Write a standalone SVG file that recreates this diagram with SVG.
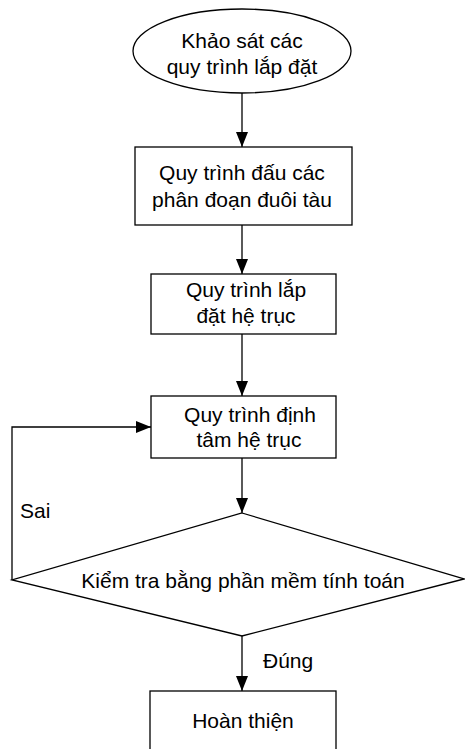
<svg xmlns="http://www.w3.org/2000/svg" width="465" height="749" viewBox="0 0 465 749">
<defs>
<style>
.s{fill:#fff;stroke:#000;stroke-width:1.3}
.c{fill:none;stroke:#000;stroke-width:1.3}
text{font-family:"Liberation Sans",Arial,sans-serif;font-size:21px;fill:#000}
.m{text-anchor:middle}
</style>
<marker id="ah" markerUnits="userSpaceOnUse" markerWidth="15" markerHeight="12" refX="15" refY="6" orient="auto" viewBox="0 0 15 12">
<path d="M0,0 L15,6 L0,12 z" fill="#000"/>
</marker>
</defs>
<rect width="465" height="749" fill="#fff"/>
<g id="connectors">
<line class="c" x1="242" y1="93" x2="242" y2="147" marker-end="url(#ah)"/>
<line class="c" x1="242" y1="225" x2="242" y2="274" marker-end="url(#ah)"/>
<line class="c" x1="242" y1="334" x2="242" y2="396" marker-end="url(#ah)"/>
<line class="c" x1="242" y1="458" x2="242" y2="513" marker-end="url(#ah)"/>
<line class="c" x1="242" y1="636" x2="242" y2="691" marker-end="url(#ah)"/>
<polyline class="c" points="12,580 12,427 151,427" marker-end="url(#ah)"/>
<text x="20" y="518">Sai</text>
<text x="263" y="668">Đúng</text>
</g>
<g id="start">
<ellipse class="s" cx="242" cy="51" rx="109" ry="42"/>
<text class="m" x="242" y="48">Khảo sát các</text>
<text class="m" x="242" y="74">quy trình lắp đặt</text>
</g>
<g id="step1">
<rect class="s" x="135" y="147" width="217" height="78"/>
<text class="m" x="242" y="180">Quy trình đấu các</text>
<text class="m" x="242" y="207">phân đoạn đuôi tàu</text>
</g>
<g id="step2">
<rect class="s" x="151" y="274" width="185" height="60"/>
<text class="m" x="246" y="297">Quy trình lắp</text>
<text class="m" x="246" y="323">đặt hệ trục</text>
</g>
<g id="step3">
<rect class="s" x="151" y="396" width="185" height="62"/>
<text class="m" x="250" y="422">Quy trình định</text>
<text class="m" x="249" y="447">tâm hệ trục</text>
</g>
<g id="check">
<polygon class="s" points="242,513 464,579 242,636 12,580"/>
<text class="m" x="243" y="588">Kiểm tra bằng phần mềm tính toán</text>
</g>
<g id="finish">
<rect class="s" x="150" y="691" width="186" height="70"/>
<text class="m" x="243" y="728">Hoàn thiện</text>
</g>
</svg>
